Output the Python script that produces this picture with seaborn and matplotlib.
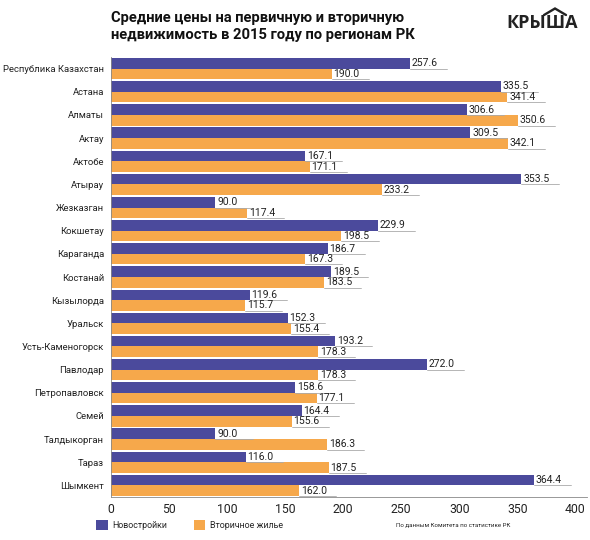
import matplotlib
matplotlib.use("Agg")
import matplotlib.pyplot as plt
from matplotlib.lines import Line2D
import seaborn as sns
import pandas as pd

regions = ["Республика Казахстан", "Астана", "Алматы", "Актау", "Актобе", "Атырау",
           "Жезказган", "Кокшетау", "Караганда", "Костанай", "Кызылорда", "Уральск",
           "Усть-Каменогорск", "Павлодар", "Петропавловск", "Семей", "Талдыкорган",
           "Тараз", "Шымкент"]
new_build = [257.6, 335.5, 306.6, 309.5, 167.1, 353.5, 90.0, 229.9, 186.7, 189.5,
             119.6, 152.3, 193.2, 272.0, 158.6, 164.4, 90.0, 116.0, 364.4]
secondary = [190.0, 341.4, 350.6, 342.1, 171.1, 233.2, 117.4, 198.5, 167.3, 183.5,
             115.7, 155.4, 178.3, 178.3, 177.1, 155.6, 186.3, 187.5, 162.0]
series_names = ["Новостройки", "Вторичное жилье"]
x_ticks = [0, 50, 100, 150, 200, 250, 300, 350, 400]

title = "Средние цены на первичную и вторичную\nнедвижимость в 2015 году по регионам РК"
source = "По данным Комитета по статистике РК"

df = pd.DataFrame({
    "region": regions * 2,
    "value": new_build + secondary,
    "series": [series_names[0]] * len(regions) + [series_names[1]] * len(regions),
})

sns.set_theme(style="white")
plt.rcParams["font.family"] = ["Roboto", "DejaVu Sans"]

W, H = 590, 540
fig = plt.figure(figsize=(5.9, 5.4), dpi=100)
ax = fig.add_axes([111 / W, 1 - 497 / H, 476 / W, 440 / H])

palette = {series_names[0]: "#4b4a9c", series_names[1]: "#f6a84b"}
sns.barplot(data=df, y="region", x="value", hue="series", orient="h",
            palette=palette, width=0.92, gap=0, saturation=1, ax=ax,
            edgecolor="none")

for cont in ax.containers:
    for p in cont.patches:
        w = p.get_width()
        y0 = p.get_y()
        h = p.get_height()
        ax.text(w + 1.5, y0 + h / 2, f"{w:.1f}", va="center", ha="left",
                fontsize=7.5, color="#222222")
        ax.plot([w, w + 32], [y0 + h, y0 + h], color="#aaaaaa", lw=0.6)

ax.set_xlim(0, 410)
ax.set_ylim(len(regions) - 0.5, -0.5)
ax.set_xticks(x_ticks)
ax.set_xticklabels([str(t) for t in x_ticks], fontsize=8.8, color="#222222")
ax.tick_params(axis="x", direction="in", length=3, width=0.6, color="#888888", pad=4)
ax.tick_params(axis="y", length=0, labelsize=6.8, labelcolor="#222222", pad=5)
ax.set_xlabel("")
ax.set_ylabel("")
for s in ["top", "right"]:
    ax.spines[s].set_visible(False)
for s in ["left", "bottom"]:
    ax.spines[s].set_color("#888888")
    ax.spines[s].set_linewidth(0.6)

sns.move_legend(ax, loc="center left", bbox_to_anchor=(96 / W, 1 - 525 / H),
                bbox_transform=fig.transFigure, ncol=2, frameon=False, title=None,
                fontsize=6.4, handlelength=1.3, handleheight=1.3, columnspacing=3.0,
                handletextpad=0.5, borderaxespad=0, borderpad=0)

fig.text(111 / W, 1 - 11 / H, title, ha="left", va="top", fontsize=10.6,
         fontweight="bold", family=["Roboto", "DejaVu Sans"], color="#111111",
         linespacing=1.25)
fig.text(578 / W, 1 - 23 / H, "КРЫША", ha="right", va="center", fontsize=13,
         fontweight="bold", family=["Open Sans", "DejaVu Sans"], color="#222222")
fig.add_artist(Line2D([544 / W, 555 / W, 566 / W],
                      [1 - 15 / H, 1 - 8.5 / H, 1 - 15 / H],
                      transform=fig.transFigure, color="#222222", lw=1.7,
                      solid_joinstyle="miter"))
fig.text(510 / W, 1 - 525 / H, source, ha="right", va="center", fontsize=4.4,
         color="#222222")

fig.savefig("out.png", dpi=100)
